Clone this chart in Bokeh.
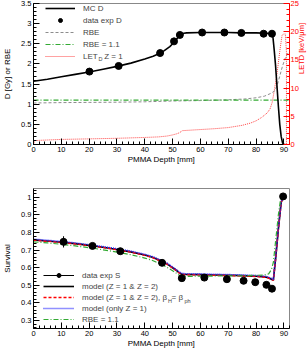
import math
from bokeh.plotting import figure
from bokeh.models import (Range1d, LinearAxis, FixedTicker, CustomJSTickFormatter,
                          Legend, LegendItem, Label)
from bokeh.layouts import column
from bokeh.embed import file_html
from bokeh.resources import INLINE

FONT = "Liberation Sans"

# ---------------- data: top panel ----------------
depth_mc = [0, 5, 10, 15, 20, 25, 30, 35, 40, 43, 45, 47, 49, 50, 51, 52, 53, 54, 55, 60, 65, 70,
            75, 80, 84, 85.7, 86.0, 86.5, 87.0, 87.5, 88.0, 88.5, 89.0, 89.5, 90.0, 90.5]
dose_mc = [1.57, 1.62, 1.68, 1.74, 1.80, 1.87, 1.94, 2.02, 2.12, 2.19, 2.25, 2.33, 2.43, 2.50, 2.58,
           2.66, 2.72, 2.76, 2.77, 2.78, 2.78, 2.78, 2.77, 2.77, 2.76, 2.74, 2.70, 2.35, 1.95, 1.45,
           0.95, 0.50, 0.20, 0.04, 0.0, 0.0]

depth_expD = [20.1, 30.6, 45.5, 50.5, 52.6, 60.6, 68.6, 74.7, 82.7, 85.7]
dose_expD = [1.81, 1.95, 2.27, 2.56, 2.72, 2.78, 2.78, 2.77, 2.75, 2.75]
xerr_expD = [0.7, 0.7, 0.7, 0.7, 0.7, 0.7, 0.7, 0.7, 0.7, 0.7]

depth_rbe = [0, 10, 20, 30, 40, 50, 60, 70, 76, 80, 83, 85, 86.5, 87.5, 88.5, 89.5, 90.5, 91.7]
rbe = [1.03, 1.04, 1.045, 1.05, 1.06, 1.08, 1.09, 1.11, 1.13, 1.16, 1.20, 1.26, 1.32, 1.45, 1.70,
       1.95, 2.15, 2.30]

depth_rbe11 = [0, 92]
rbe11 = [1.1, 1.1]

depth_let = [0, 0.5, 5, 10, 20, 30, 40, 45, 48, 50, 51.5, 52.5, 53.5, 55, 60, 65, 70, 75, 78, 80,
             82, 84, 85, 85.8, 86.5, 87.5, 88.5, 89.3, 89.8, 90.5, 90.9, 90.9, 92]
let_d = [0, 0.7, 0.8, 0.9, 1.0, 1.1, 1.25, 1.35, 1.5, 1.7, 1.9, 2.1, 2.45, 2.5, 2.65, 2.8, 3.0,
         3.4, 3.8, 4.2, 4.8, 5.6, 6.3, 7.5, 9.5, 12.5, 16.5, 19.3, 19.6, 19.6, 16.4, 0, 0]

# ---------------- data: bottom panel ----------------
depth_mod = [0, 5, 10, 15, 20, 25, 30, 35, 40, 43, 46, 48, 50, 51.5, 52.5, 53.5, 55, 60, 65, 70,
             75, 80, 83, 84.5, 85.5, 86.2, 87, 88, 89, 89.5, 91]
surv_mod = [0.758, 0.752, 0.745, 0.737, 0.727, 0.716, 0.704, 0.690, 0.672, 0.658, 0.637, 0.622,
            0.600, 0.583, 0.570, 0.563, 0.562, 0.561, 0.559, 0.557, 0.555, 0.552, 0.548, 0.543,
            0.535, 0.530, 0.650, 0.820, 0.970, 0.995, 1.0]
surv_beta = [0.757, 0.751, 0.744, 0.736, 0.726, 0.715, 0.703, 0.689, 0.671, 0.657, 0.636, 0.621,
             0.599, 0.582, 0.569, 0.562, 0.561, 0.560, 0.558, 0.556, 0.554, 0.551, 0.547, 0.542,
             0.534, 0.529, 0.650, 0.820, 0.970, 0.995, 1.0]
surv_z1 = [0.762, 0.756, 0.749, 0.741, 0.731, 0.720, 0.708, 0.694, 0.676, 0.662, 0.641, 0.626,
           0.604, 0.587, 0.574, 0.567, 0.566, 0.565, 0.563, 0.561, 0.559, 0.556, 0.552, 0.547,
           0.539, 0.533, 0.655, 0.825, 0.972, 0.996, 1.0]
depth_rbeS = [0, 5, 10, 15, 20, 25, 30, 35, 40, 43, 46, 48, 50, 51.5, 52.5, 53.5, 55, 60, 65, 70,
              75, 80, 83, 84.5, 85.5, 86.2, 87, 88, 88.8, 89.5, 91]
surv_rbe = [0.747, 0.741, 0.733, 0.724, 0.714, 0.702, 0.689, 0.674, 0.655, 0.640, 0.618, 0.602,
            0.583, 0.567, 0.556, 0.551, 0.551, 0.552, 0.553, 0.554, 0.555, 0.557, 0.559, 0.565,
            0.590, 0.630, 0.750, 0.900, 0.990, 1.0, 1.0]

depth_expS = [10.8, 21.2, 31.2, 46.2, 53.3, 61.4, 69.5, 75.5, 79.7, 83.7, 85.7, 89.7]
surv_expS = [0.747, 0.724, 0.694, 0.628, 0.541, 0.544, 0.535, 0.526, 0.518, 0.503, 0.481, 1.005]
err_expS = [0.032, 0.012, 0.012, 0.018, 0.008, 0.008, 0.008, 0.008, 0.008, 0.008, 0.008, 0.008]

# ticks
x_ticks = [0, 10, 20, 30, 40, 50, 60, 70, 80, 90]
x_minor = list(range(0, 93, 2))
d_ticks = [0, 0.5, 1, 1.5, 2, 2.5, 3, 3.5]
d_minor = [i / 10 for i in range(0, 36)]
let_ticks = [0, 5, 10, 15, 20, 25]
let_minor = list(range(0, 26))
s_ticks = [0.3, 0.4, 0.5, 0.6, 0.7, 0.8, 0.9, 1.0]
s_minor = [i / 50 for i in range(13, 53)]

fmt = "return parseFloat(tick.toFixed(3)).toString();"


def style_axis(ax, color="black"):
    ax.axis_line_color = color
    ax.major_tick_line_color = color
    ax.minor_tick_line_color = color
    ax.major_tick_in = 6
    ax.major_tick_out = 0
    ax.minor_tick_in = 3
    ax.minor_tick_out = 0
    ax.major_label_text_font = FONT
    ax.major_label_text_font_size = "7.5px"
    ax.major_label_text_color = color
    ax.major_label_standoff = 2
    ax.axis_label_text_font = FONT
    ax.axis_label_text_font_size = "8px"
    ax.axis_label_text_font_style = "normal"
    ax.axis_label_text_color = color
    ax.formatter = CustomJSTickFormatter(code=fmt)


FW = 256

# ---------------- top figure ----------------
p1 = figure(frame_width=FW, frame_height=141, x_range=Range1d(0, 92), y_range=Range1d(0, 3.5),
            output_backend="svg", toolbar_location=None,
            min_border_left=30, min_border_right=20, min_border_top=3, min_border_bottom=32)
p1.extra_y_ranges = {"let": Range1d(0, 25)}
p1.grid.visible = False
p1.outline_line_color = "#888888"
p1.background_fill_color = "white"
p1.border_fill_color = "white"

style_axis(p1.xaxis[0])
p1.xaxis.ticker = FixedTicker(ticks=x_ticks, minor_ticks=x_minor)
p1.xaxis.axis_label = "PMMA Depth [mm]"
p1.xaxis.axis_label_standoff = 0
style_axis(p1.yaxis[0])
p1.yaxis.ticker = FixedTicker(ticks=d_ticks, minor_ticks=d_minor)
p1.yaxis.axis_label = "D [Gy] or RBE"
p1.yaxis.axis_label_standoff = 6

ax_r = LinearAxis(y_range_name="let", ticker=FixedTicker(ticks=let_ticks, minor_ticks=let_minor))
style_axis(ax_r, "#ff0000")
ax_r.major_label_standoff = 1
ax_r.axis_label = "LETD [keV/μm]"
ax_r.axis_label_standoff = 0
ax_r.axis_label_text_font_size = "7.5px"
ax_r.axis_label_orientation = math.pi / 2
p1.add_layout(ax_r, "right")

r_let = p1.line(depth_let, let_d, y_range_name="let", line_color="#ff4444", line_width=1,
                line_dash="1 1")
r_rbe = p1.line(depth_rbe, rbe, line_color="#8c8c8c", line_width=1, line_dash="3 2")
r_rbe11 = p1.line(depth_rbe11, rbe11, line_color="#33aa33", line_width=1.2, line_dash="5 2 1 2")
r_mc = p1.line(depth_mc, dose_mc, line_color="black", line_width=1.6)
x0 = [d - e for d, e in zip(depth_expD, xerr_expD)]
x1 = [d + e for d, e in zip(depth_expD, xerr_expD)]
p1.segment(x0=x0, y0=dose_expD, x1=x1, y1=dose_expD, line_color="black", line_width=1)
r_expD = p1.scatter(depth_expD, dose_expD, size=7, color="black")

leg1 = Legend(items=[LegendItem(label="MC D", renderers=[r_mc]),
                     LegendItem(label="data exp D", renderers=[r_expD]),
                     LegendItem(label="RBE", renderers=[r_rbe]),
                     LegendItem(label="RBE = 1.1", renderers=[r_rbe11]),
                     LegendItem(label="LET   Z = 1", renderers=[r_let])],
              location=(12, 83), border_line_color=None, background_fill_alpha=0,
              label_text_font=FONT, label_text_font_size="8px", glyph_width=30,
              glyph_height=10, label_height=10, label_standoff=8, spacing=2, padding=0,
              margin=0)
p1.add_layout(leg1)

# subscripts (screen units are relative to the frame's bottom-left corner)
sub_style = dict(x_units="screen", y_units="screen", text_font=FONT, text_font_size="5.5px",
                 text_baseline="middle", text_align="left")
p1.add_layout(Label(x=65, y=86, text="D", **sub_style))

# ---------------- bottom figure ----------------
p2 = figure(frame_width=FW, frame_height=140, x_range=Range1d(0, 92),
            y_range=Range1d(0.255, 1.05), output_backend="svg", toolbar_location=None,
            min_border_left=30, min_border_right=20, min_border_top=12, min_border_bottom=20)
p2.grid.visible = False
p2.outline_line_color = "#888888"
p2.background_fill_color = "white"
p2.border_fill_color = "white"
style_axis(p2.xaxis[0])
p2.xaxis.ticker = FixedTicker(ticks=x_ticks, minor_ticks=x_minor)
p2.xaxis.axis_label = "PMMA Depth [mm]"
p2.xaxis.axis_label_standoff = 0
style_axis(p2.yaxis[0])
p2.yaxis.ticker = FixedTicker(ticks=s_ticks, minor_ticks=s_minor)
p2.yaxis.axis_label = "Survival"
p2.yaxis.axis_label_standoff = 6

r_m = p2.line(depth_mod, surv_mod, line_color="black", line_width=1.6)
r_b = p2.line(depth_mod, surv_beta, line_color="#ff0000", line_width=1.6, line_dash="3 2")
r_z = p2.line(depth_mod, surv_z1, line_color="#2222ff", line_width=1.6, line_dash="1 1")
r_g = p2.line(depth_rbeS, surv_rbe, line_color="#33aa33", line_width=1.2, line_dash="5 2 1 2")
y0 = [s - e for s, e in zip(surv_expS, err_expS)]
y1 = [s + e for s, e in zip(surv_expS, err_expS)]
r_err = p2.segment(x0=depth_expS, y0=y0, x1=depth_expS, y1=y1, line_color="black", line_width=1)
r_expS = p2.scatter(depth_expS, surv_expS, size=7, color="black")

leg2 = Legend(items=[LegendItem(label="data exp S", renderers=[r_err, r_expS]),
                     LegendItem(label="model (Z = 1 & Z = 2)", renderers=[r_m]),
                     LegendItem(label="model (Z = 1 & Z = 2), β  = β", renderers=[r_b]),
                     LegendItem(label="model (only Z = 1)", renderers=[r_z]),
                     LegendItem(label="RBE = 1.1", renderers=[r_g])],
              location=(10, 4), border_line_color=None, background_fill_alpha=0,
              label_text_font=FONT, label_text_font_size="8px", glyph_width=31,
              glyph_height=10, label_height=10, label_standoff=8, spacing=1, padding=0,
              margin=0)
p2.add_layout(leg2)
p2.add_layout(Label(x=134.5, y=28, text="H", **sub_style))
p2.add_layout(Label(x=151, y=28, text="ph", **sub_style))

layout = column(p1, p2, spacing=0)
p = layout
open("out.html", "w").write(file_html(p, INLINE))
